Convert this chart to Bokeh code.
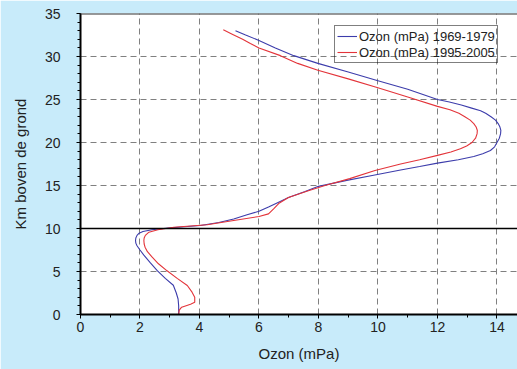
from bokeh.plotting import figure
from bokeh.models import Span, Legend, LegendItem, Range1d, SingleIntervalTicker
from bokeh.embed import file_html
from bokeh.resources import INLINE

# 1969-1979 profile: altitude (km) and ozone (mPa)
km_1969 = [0.0, 1.0, 1.8, 2.5, 3.4, 4.2, 5.1, 6.0, 6.9, 7.5, 8.0, 8.3, 8.6, 8.9, 9.2, 9.45, 9.65,
           9.85, 10.05, 10.35, 10.7, 11.1, 11.6, 12.0, 12.5, 13.06, 13.6, 14.3, 14.9, 15.6,
           16.2, 16.8, 17.2, 17.6, 18.0, 18.37, 18.7, 19.07, 19.5, 20.0, 20.5, 21.0, 21.4,
           21.8, 22.2, 22.6, 23.0, 23.4, 23.7, 24.0, 24.35, 24.7, 25.0, 26.2, 27.2, 28.2,
           29.2, 30.1, 31.0, 31.86, 32.5, 33.0]
oz_1969 = [3.30, 3.30, 3.28, 3.22, 3.12, 2.85, 2.58, 2.35, 2.13, 2.00, 1.90, 1.86, 1.85, 1.86,
           1.90, 1.97, 2.10, 2.40, 2.95, 4.03, 4.65, 5.15, 5.60, 6.00, 6.32, 6.66, 6.99, 7.55,
           8.00, 8.95, 9.85, 10.76, 11.40, 12.00, 12.70, 13.22, 13.52, 13.78, 13.92, 14.00,
           14.08, 14.12, 14.13, 14.10, 14.04, 13.95, 13.80, 13.62, 13.45, 13.15, 12.80, 12.40,
           12.00, 11.00, 9.97, 9.00, 7.98, 7.17, 6.55, 6.00, 5.55, 5.21]

# 1995-2005 profile
km_1995 = [0.0, 0.5, 0.85, 1.2, 1.43, 2.0, 2.6, 3.37, 4.2, 5.08, 5.9, 6.67, 7.3, 7.83, 8.2,
           8.6, 8.9, 9.2, 9.57, 9.85, 10.15, 10.43, 10.93, 11.4, 11.7, 12.3, 12.9, 13.6, 14.4,
           15.0, 15.8, 16.74, 17.5, 18.0, 18.5, 18.9, 19.27, 19.6, 20.0, 20.5, 21.0, 21.4, 21.8,
           22.2, 22.6, 23.0, 23.4, 23.8, 24.2, 25.3, 26.4, 27.4, 28.4, 29.2, 30.1, 31.0, 31.5,
           32.0, 32.6, 33.1]
oz_1995 = [3.30, 3.32, 3.40, 3.70, 3.84, 3.84, 3.75, 3.59, 3.25, 2.91, 2.62, 2.41, 2.25, 2.17,
           2.14, 2.13, 2.14, 2.18, 2.30, 2.60, 3.14, 4.26, 5.15, 6.00, 6.32, 6.50, 6.66, 6.99,
           7.66, 8.22, 9.05, 9.90, 10.76, 11.40, 12.00, 12.45, 12.77, 12.98, 13.16, 13.28,
           13.33, 13.34, 13.30, 13.22, 13.10, 12.92, 12.72, 12.42, 12.00, 11.00, 9.97, 9.00,
           7.98, 7.30, 6.72, 6.00, 5.71, 5.45, 5.10, 4.80]

labels = ["Ozon (mPa) 1969-1979", "Ozon (mPa) 1995-2005"]
tropopause_km = 10

BG = "#c8ebfa"
FONT = "Liberation Sans"

p = figure(width=517, height=369, output_backend="svg", toolbar_location=None,
           x_range=Range1d(0, 14.69), y_range=Range1d(0, 35),
           min_border_left=80, min_border_right=0, min_border_top=13, min_border_bottom=55,
           x_axis_label="Ozon (mPa)", y_axis_label="Km boven de grond")
p.border_fill_color = BG
p.background_fill_color = "white"
p.outline_line_color = None

for ax, ticker in ((p.xaxis[0], SingleIntervalTicker(interval=2, num_minor_ticks=2)),
                   (p.yaxis[0], SingleIntervalTicker(interval=5, num_minor_ticks=5))):
    ax.ticker = ticker
    ax.axis_line_width = 2
    ax.axis_line_color = "black"
    ax.major_tick_in = 0
    ax.major_tick_out = 4
    ax.minor_tick_in = 0
    ax.minor_tick_out = 3
    ax.major_tick_line_color = "black"
    ax.minor_tick_line_color = "black"
    ax.major_label_text_font = FONT
    ax.major_label_text_font_size = "14px"
    ax.major_label_text_color = "#222222"
    ax.axis_label_text_font = FONT
    ax.axis_label_text_font_size = "15px"
    ax.axis_label_text_font_style = "normal"
    ax.axis_label_text_color = "#222222"

p.xaxis.major_label_standoff = 3
p.xaxis.axis_label_standoff = 10
p.yaxis.major_label_standoff = 16
p.yaxis.axis_label_standoff = 13

p.grid.grid_line_color = "#808080"
p.grid.grid_line_dash = "6 4"
p.grid.grid_line_width = 1
p.xgrid.ticker = SingleIntervalTicker(interval=2)
p.ygrid.ticker = SingleIntervalTicker(interval=5)

p.add_layout(Span(location=tropopause_km, dimension="width", line_color="black", line_width=1.5))
p.add_layout(Span(location=35, dimension="width", line_color="#333333", line_width=2))

r1 = p.line(oz_1969, km_1969, line_color="#3c3cab", line_width=1.1)
r2 = p.line(oz_1995, km_1995, line_color="#e3343a", line_width=1.1)

legend = Legend(items=[LegendItem(label=labels[0], renderers=[r1]),
                       LegendItem(label=labels[1], renderers=[r2])],
                location=(254, 251), padding=2, spacing=0, margin=0,
                label_height=16, glyph_height=16, glyph_width=20, label_standoff=2,
                label_text_font=FONT, label_text_font_size="13px", label_text_color="#222222",
                border_line_color="black", border_line_width=1,
                background_fill_alpha=0)
p.add_layout(legend)

html = file_html(p, INLINE)
html = html.replace("<body>", '<body style="margin:0;background:%s;">' % BG, 1)
open("out.html", "w").write(html)
